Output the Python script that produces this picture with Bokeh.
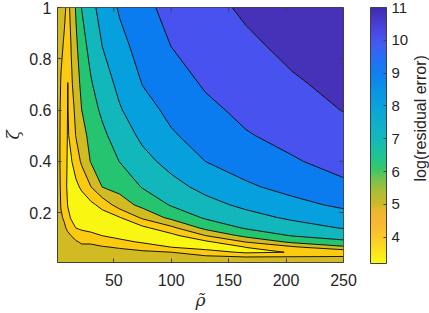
import math
import numpy as np
from bokeh.plotting import figure
from bokeh.layouts import row
from bokeh.models import Range1d, FixedTicker, ColorBar, LinearColorMapper
from bokeh.core.properties import value
from bokeh.embed import file_html
from bokeh.resources import INLINE

# grid
rho = [1, 4, 7, 10, 13, 17, 22, 30, 40, 55, 75, 100, 130, 165, 205, 250]
zeta = [0.005, 0.025, 0.045, 0.065, 0.085, 0.11, 0.14, 0.18, 0.23, 0.3, 0.4, 0.5, 0.6, 0.7, 0.85, 1.0]

# log(residual error) along each rho column, at the zeta rows above
err_r1 = [5.70, 5.68, 5.66, 5.64, 5.62, 5.60, 5.58, 5.55, 5.52, 5.50, 5.48, 5.47, 5.47, 5.50, 5.55, 5.60]
err_r4 = [5.75, 5.67, 5.60, 5.52, 5.44, 5.35, 5.23, 5.08, 4.96, 4.87, 4.81, 4.83, 4.85, 4.95, 5.12, 5.30]
err_r7 = [5.80, 5.70, 5.59, 5.49, 5.39, 5.26, 5.10, 4.91, 4.70, 4.40, 4.43, 4.47, 4.50, 4.67, 4.92, 5.10]
err_r10 = [5.85, 5.71, 5.58, 5.44, 5.31, 5.14, 4.86, 4.29, 3.94, 3.80, 3.87, 3.92, 3.95, 3.98, 4.40, 4.85]
err_r13 = [5.90, 5.73, 5.56, 5.39, 5.21, 4.99, 4.40, 3.89, 3.61, 3.65, 3.94, 4.24, 4.55, 4.85, 5.06, 5.15]
err_r17 = [5.88, 5.68, 5.49, 5.29, 5.10, 4.67, 3.99, 3.70, 3.45, 3.80, 4.43, 5.04, 5.26, 5.47, 5.79, 6.10]
err_r22 = [5.90, 5.66, 5.42, 5.18, 4.89, 4.33, 3.86, 3.49, 3.53, 4.14, 5.17, 5.58, 5.99, 6.25, 6.63, 7.02]
err_r30 = [5.90, 5.66, 5.42, 5.18, 4.88, 4.25, 3.70, 3.33, 3.75, 4.98, 6.06, 6.34, 6.63, 6.91, 7.31, 7.70]
err_r40 = [5.90, 5.62, 5.35, 5.07, 4.63, 3.99, 3.52, 3.47, 4.33, 6.02, 6.40, 6.80, 7.17, 7.50, 8.01, 8.38]
err_r55 = [5.90, 5.58, 5.27, 4.91, 4.30, 3.66, 3.35, 3.93, 5.50, 6.33, 7.02, 7.45, 7.91, 8.24, 8.70, 9.11]
err_r75 = [5.85, 5.51, 5.17, 4.60, 3.88, 3.25, 3.75, 5.17, 6.29, 7.06, 7.69, 8.21, 8.63, 9.02, 9.39, 9.75]
err_r100 = [5.80, 5.40, 5.01, 3.99, 3.44, 3.70, 4.75, 6.27, 7.08, 7.67, 8.33, 8.89, 9.24, 9.55, 10.01, 10.29]
err_r130 = [5.80, 5.27, 4.41, 3.60, 3.78, 5.01, 6.29, 7.12, 7.67, 8.29, 9.01, 9.39, 9.79, 10.10, 10.42, 10.75]
err_r165 = [5.75, 5.10, 3.85, 4.01, 5.02, 6.30, 7.10, 7.64, 8.22, 8.86, 9.43, 9.93, 10.22, 10.47, 10.85, 11.13]
err_r205 = [5.70, 5.14, 4.03, 4.83, 6.19, 7.05, 7.56, 8.16, 8.73, 9.29, 9.91, 10.27, 10.59, 10.90, 11.19, 11.43]
err_r250 = [5.60, 5.17, 4.20, 5.83, 6.79, 7.43, 8.06, 8.61, 9.17, 9.82, 10.32, 10.62, 11.03, 11.20, 11.44, 11.70]

levels = [3.0, 4, 5, 6, 7, 8, 9, 10, 11, 12]
x_ticks = [50, 100, 150, 200, 250]
y_ticks = [0.2, 0.4, 0.6, 0.8, 1]
cbar_ticks = [4, 5, 6, 7, 8, 9, 10, 11]
cbar_low, cbar_high = 3.2, 11.0
cbar_title = "log(residual error)"

z = np.array([err_r1, err_r4, err_r7, err_r10, err_r13, err_r17, err_r22, err_r30,
              err_r40, err_r55, err_r75, err_r100, err_r130, err_r165, err_r205, err_r250]).T

# reversed-parula-like colour stops (style)
stop_v = [3.2, 3.6, 4.0, 4.4, 4.8, 5.0, 5.4, 5.8, 6.1, 6.5, 7.0, 7.5, 8.0, 8.5, 9.0, 9.5, 10.0, 10.5, 11.0]
stop_c = [(249, 250, 20), (250, 225, 30), (252, 200, 40), (250, 184, 50), (236, 183, 45), (205, 185, 40),
          (170, 190, 55), (110, 195, 80), (50, 200, 110), (30, 195, 150), (20, 185, 185), (15, 175, 205),
          (10, 162, 220), (10, 148, 228), (15, 128, 240), (40, 110, 245), (72, 85, 240), (72, 62, 215),
          (62, 45, 175)]
vv = np.linspace(cbar_low, cbar_high, 256)
chan = [np.interp(vv, stop_v, [c[i] for c in stop_c]) for i in range(3)]
palette = ["#%02x%02x%02x" % (int(round(r)), int(round(g)), int(round(b))) for r, g, b in zip(*chan)]

fills = ["#F9F612", "#FCCA10", "#D2BA22", "#24C470", "#12B7BC", "#06A0DE", "#0A7CF0", "#4852EE", "#4632B9"]

FONT = "Liberation Sans"
TXT = "#262626"
EDGE = "#404040"
X0, X1, Y0, Y1 = 1, 250, 0.005, 1.0
FW, FH = 290, 255   # frame size in px
MAIN_W, CAP_W, H = 411, 18, 313

p = figure(width=MAIN_W, height=H, x_range=Range1d(X0, X1), y_range=Range1d(Y0, Y1),
           output_backend="svg", toolbar_location=None,
           min_border_left=53, min_border_right=MAIN_W - 53 - FW, min_border_top=7, min_border_bottom=51)
p.grid.visible = False
p.outline_line_color = EDGE
p.background_fill_color = "white"
p.border_fill_color = "white"

p.contour(rho, zeta, z, levels, fill_color=fills, line_color="black", line_width=0.9)

# inward box ticks on the top and right edges
tl_y = 4 * (Y1 - Y0) / FH
tl_x = 4 * (X1 - X0) / FW
p.segment(x0=x_ticks, y0=[Y1] * len(x_ticks), x1=x_ticks, y1=[Y1 - tl_y] * len(x_ticks),
          line_color=EDGE, line_width=1)
p.segment(x0=[X1] * len(y_ticks), y0=y_ticks, x1=[X1 - tl_x] * len(y_ticks), y1=y_ticks,
          line_color=EDGE, line_width=1)

for ax in (p.xaxis[0], p.yaxis[0]):
    ax.major_tick_in = 4
    ax.major_tick_out = 0
    ax.minor_tick_line_color = None
    ax.axis_line_color = EDGE
    ax.major_tick_line_color = EDGE
    ax.major_label_text_font = FONT
    ax.major_label_text_font_size = "16px"
    ax.major_label_text_color = TXT
    ax.axis_label_text_font = "DejaVu Serif"
    ax.axis_label_text_font_style = "italic"
    ax.axis_label_text_font_size = "17px"
    ax.axis_label_text_color = TXT

p.xaxis.ticker = FixedTicker(ticks=x_ticks)
p.xaxis.major_label_standoff = 11
p.xaxis.axis_label = "\u03c1\u0303"
p.xaxis.axis_label_standoff = 1
p.yaxis.ticker = FixedTicker(ticks=y_ticks)
p.yaxis.major_label_overrides = {1: "1"}
p.yaxis.major_label_standoff = 6
p.yaxis.axis_label = "\u03b6"
p.yaxis.axis_label_standoff = 3

mapper = LinearColorMapper(palette=palette, low=cbar_low, high=cbar_high)
cb = ColorBar(color_mapper=mapper, ticker=FixedTicker(ticks=cbar_ticks), width=16, height=256,
              location=(FW + 23, -1), padding=0, margin=0, label_standoff=5,
              major_label_text_font=FONT, major_label_text_font_size="15px", major_label_text_color=TXT,
              major_tick_in=3, major_tick_out=0, major_tick_line_color=EDGE, minor_tick_line_color=None,
              bar_line_color=EDGE, border_line_color=None, background_fill_color=None)
p.add_layout(cb, "center")

# narrow strip to the right holding the colour-bar caption (reads bottom to top)
cap = figure(width=CAP_W, height=H, x_range=Range1d(0, CAP_W), y_range=Range1d(0, H),
             output_backend="svg", toolbar_location=None,
             min_border_left=0, min_border_right=0, min_border_top=0, min_border_bottom=0)
cap.xaxis.visible = False
cap.yaxis.visible = False
cap.grid.visible = False
cap.outline_line_color = None
cap.background_fill_color = "white"
cap.border_fill_color = "white"
cap.text(x=[420 - MAIN_W], y=[H - 136], text=[cbar_title], angle=math.pi / 2,
         text_align="center", text_baseline="middle", text_font=value(FONT),
         text_font_size="16px", text_color=TXT)

layout = row(p, cap, spacing=0)
open("out.html", "w").write(file_html(layout, INLINE))
